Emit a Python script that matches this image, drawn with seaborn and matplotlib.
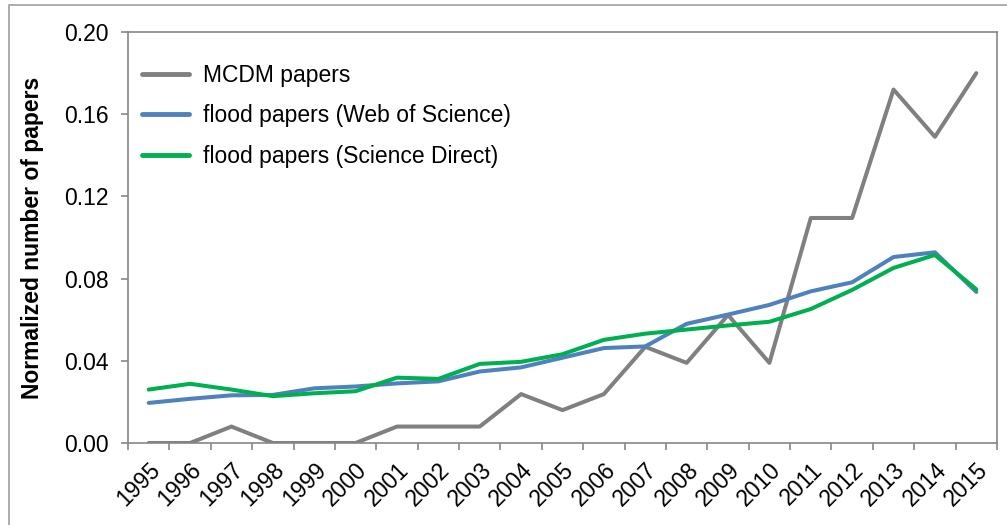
import matplotlib
matplotlib.use("Agg")
import matplotlib.pyplot as plt
import seaborn as sns
import pandas as pd
import numpy as np
from matplotlib.patches import Rectangle

years = list(range(1995, 2016))
mcdm = [0.0, 0.0, 0.008, 0.0, 0.0, 0.0, 0.008, 0.008, 0.008, 0.0238, 0.016,
        0.0238, 0.0468, 0.039, 0.0623, 0.039, 0.1095, 0.1095, 0.172, 0.149, 0.180]
wos = [0.0195, 0.0215, 0.0232, 0.0234, 0.0266, 0.0275, 0.029, 0.030, 0.0348, 0.0368, 0.0415,
       0.0462, 0.047, 0.058, 0.0625, 0.0672, 0.0738, 0.0782, 0.0905, 0.0928, 0.0735]
sd = [0.026, 0.0288, 0.026, 0.0228, 0.0242, 0.0252, 0.0318, 0.0312, 0.0385, 0.0395, 0.0432,
      0.0502, 0.0532, 0.0552, 0.0572, 0.059, 0.0652, 0.0745, 0.0852, 0.0915, 0.0748]
series_names = ["MCDM papers", "flood papers (Web of Science)", "flood papers (Science Direct)"]
colors = ["#808080", "#4F81BD", "#00B050"]
yticks = [0.00, 0.04, 0.08, 0.12, 0.16, 0.20]

df = pd.DataFrame({
    "year": years * 3,
    "value": mcdm + wos + sd,
    "series": [series_names[0]] * len(years) + [series_names[1]] * len(years) + [series_names[2]] * len(years),
})

sns.set_style("white")
plt.rcParams["font.family"] = ["Liberation Sans", "DejaVu Sans"]
plt.rcParams["text.color"] = "black"
plt.rcParams["xtick.color"] = "black"
plt.rcParams["ytick.color"] = "black"
plt.rcParams["axes.labelcolor"] = "black"

FS = 16.5

fig = plt.figure(figsize=(10.07, 5.25), dpi=100)
ax = fig.add_axes([128 / 1007, 82 / 525, 869 / 1007, 411 / 525])

sns.lineplot(data=df, x="year", y="value", hue="series", hue_order=series_names,
             palette=colors, linewidth=2.9, ax=ax, legend=True)

ax.set_xlim(1994.5, 2015.5)
ax.set_ylim(0, 0.20)
ax.set_yticks(yticks)
ax.set_yticklabels([f"{v:.2f}" for v in yticks], fontsize=FS)
ax.set_xticks(years)
ax.set_xticklabels([str(y) for y in years], fontsize=FS, rotation=45, ha="right",
                   rotation_mode="anchor")
ax.set_xticks(np.arange(1994.5, 2016, 1.0), minor=True)
ax.tick_params(axis="x", which="major", length=0, pad=11)
ax.tick_params(axis="x", which="minor", length=5, width=1.2, color="#868686", direction="out", bottom=True)
ax.tick_params(axis="y", which="major", length=5, width=1.2, color="#868686", direction="out", left=True, pad=9)

for sp in ax.spines.values():
    sp.set_color("#868686")
    sp.set_linewidth(1.2)
    sp.set_visible(True)

ax.set_xlabel("")
ax.set_ylabel("Normalized number of papers", fontsize=FS, fontweight="bold", labelpad=14)

leg = ax.legend(loc="upper left", bbox_to_anchor=(-0.005, 0.967), frameon=False, fontsize=FS,
                handlelength=2.05, handletextpad=0.62, labelspacing=0.76, borderaxespad=0.4)
for line in leg.get_lines():
    line.set_linewidth(3.5)

fig.patches.append(Rectangle((9 / 1007, -0.05), 1.2, (525 - 5) / 525 + 0.05,
                             transform=fig.transFigure, fill=False, edgecolor="#A0A0A0",
                             linewidth=1.2))

fig.savefig("out.png", dpi=100)
